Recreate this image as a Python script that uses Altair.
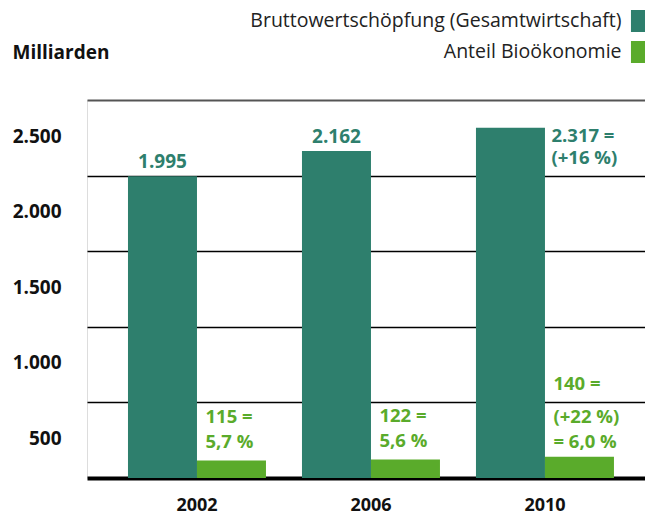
import altair as alt
import pandas as pd

years = ["2002", "2006", "2010"]
series = ["Bruttowertschöpfung (Gesamtwirtschaft)", "Anteil Bioökonomie"]
total = [1995, 2162, 2317]
bio = [115, 122, 140]
total_labels = ["1.995", "2.162", "2.317 =\n(+16 %)"]
bio_labels = ["115 =\n5,7 %", "122 =\n5,6 %", "140 =\n(+22 %)\n= 6,0 %"]
y_ticks = [500, 1000, 1500, 2000, 2500]

DARK = "#2e7f6d"
GREEN = "#5aab2b"
FONT = "Open Sans"

rows = []
for i, y in enumerate(years):
    rows.append({"year": y, "series": series[0], "value": total[i], "label": total_labels[i]})
    lines = bio_labels[i].split("\n")
    rows.append({"year": y, "series": series[1], "value": bio[i],
                 "label": "\n".join(lines[-2:]),
                 "head": lines[0] if len(lines) > 2 else ""})
df = pd.DataFrame(rows)

x_enc = alt.X("year:N", title=None,
              scale=alt.Scale(domain=years, paddingInner=0.207, paddingOuter=0.207, align=0.569),
              axis=alt.Axis(labelFont=FONT, labelFontSize=18, labelFontWeight="bold",
                            labelColor="#111", labelAngle=0, labelPadding=18, ticks=False,
                            domainColor="#000", domainWidth=4))
xo_enc = alt.XOffset("series:N", scale=alt.Scale(domain=series, paddingInner=0, paddingOuter=0))
y_enc = alt.Y("value:Q",
              scale=alt.Scale(domain=[0, 2500], nice=False, zero=True),
              axis=alt.Axis(values=y_ticks, title="Milliarden", titleAngle=0,
                            titleAlign="left", titleBaseline="middle", titleX=-75, titleY=-48,
                            titleFont=FONT, titleFontSize=19, titleFontWeight="bold", titleColor="#111",
                            labelExpr="replace(format(datum.value, ','), ',', '.')",
                            labelFont=FONT, labelFontSize=19, labelFontWeight="bold", labelColor="#111",
                            labelOffset=36, labelPadding=26, ticks=False, domain=False,
                            gridColor={"condition": {"test": "datum.value === 2500", "value": "#555"}, "value": "#000"},
                            gridWidth={"condition": {"test": "datum.value === 2500", "value": 2}, "value": 1.3},
                            gridOpacity=1))

bars = alt.Chart(df).mark_bar(size=69).encode(
    x=x_enc, xOffset=xo_enc, y=y_enc,
    color=alt.Color("series:N", scale=alt.Scale(domain=series, range=[DARK, GREEN]),
                    legend=alt.Legend(title=None, orient="none", legendX=540, legendY=-90,
                                      direction="vertical",
                                      symbolType="M-0.64,-1H0.64V1H-0.64Z", symbolSize=484,
                                      symbolStrokeWidth=0, symbolOpacity=1,
                                      labelAlign="right", labelOffset={"expr": "-27.5"},
                                      labelFont=FONT, labelFontSize=19.5, labelColor="#222",
                                      labelLimit=500, rowPadding=9))
)

top_lab = alt.Chart(df).transform_filter(
    f"datum.series === '{series[0]}' && datum.year !== '2010'"
).mark_text(font=FONT, fontSize=19, fontWeight="bold", color=DARK,
            align="center", baseline="alphabetic", dy=-8).encode(
    x=alt.X("year:N"), xOffset=alt.XOffset("series:N"), y=alt.Y("value:Q"), text="label:N")

side_lab = alt.Chart(df).transform_filter(
    f"datum.series === '{series[0]}' && datum.year === '2010'"
).mark_text(font=FONT, fontSize=18.5, fontWeight="bold", color=DARK,
            align="left", baseline="alphabetic", dx=41, dy=14, lineBreak="\n", lineHeight=22.5).encode(
    x=alt.X("year:N"), xOffset=alt.XOffset("series:N"), y=alt.Y("value:Q"), text="label:N")

bio_lab = alt.Chart(df).transform_filter(
    f"datum.series === '{series[1]}' && datum.year !== '2010'"
).mark_text(font=FONT, fontSize=18.5, fontWeight="bold", color=GREEN,
            align="left", baseline="alphabetic", dx=-26, dy=-37.5, lineBreak="\n", lineHeight=25).encode(
    x=alt.X("year:N"), xOffset=alt.XOffset("series:N"), y=alt.Y("value:Q"), text="label:N")

bio_lab10 = alt.Chart(df).transform_filter(
    f"datum.series === '{series[1]}' && datum.year === '2010'"
).mark_text(font=FONT, fontSize=18.5, fontWeight="bold", color=GREEN,
            align="left", baseline="alphabetic", dx=-26, dy=-34.3, lineBreak="\n", lineHeight=25).encode(
    x=alt.X("year:N"), xOffset=alt.XOffset("series:N"), y=alt.Y("value:Q"), text="label:N")

bio_head10 = alt.Chart(df).transform_filter(
    f"datum.series === '{series[1]}' && datum.year === '2010'"
).mark_text(font=FONT, fontSize=18.5, fontWeight="bold", color=GREEN,
            align="left", baseline="alphabetic", dx=-26, dy=-66.8).encode(
    x=alt.X("year:N"), xOffset=alt.XOffset("series:N"), y=alt.Y("value:Q"), text="head:N")

chart = alt.layer(bars, top_lab, side_lab, bio_lab, bio_lab10, bio_head10).properties(
    width=558, height=378,
    padding={"left": 87, "top": 100, "right": 0, "bottom": 35},
    autosize=alt.AutoSizeParams(type="none"),
).configure_view(stroke=None).configure(background="white")

chart.save("out.html", embed_options={"renderer": "svg", "actions": False})
